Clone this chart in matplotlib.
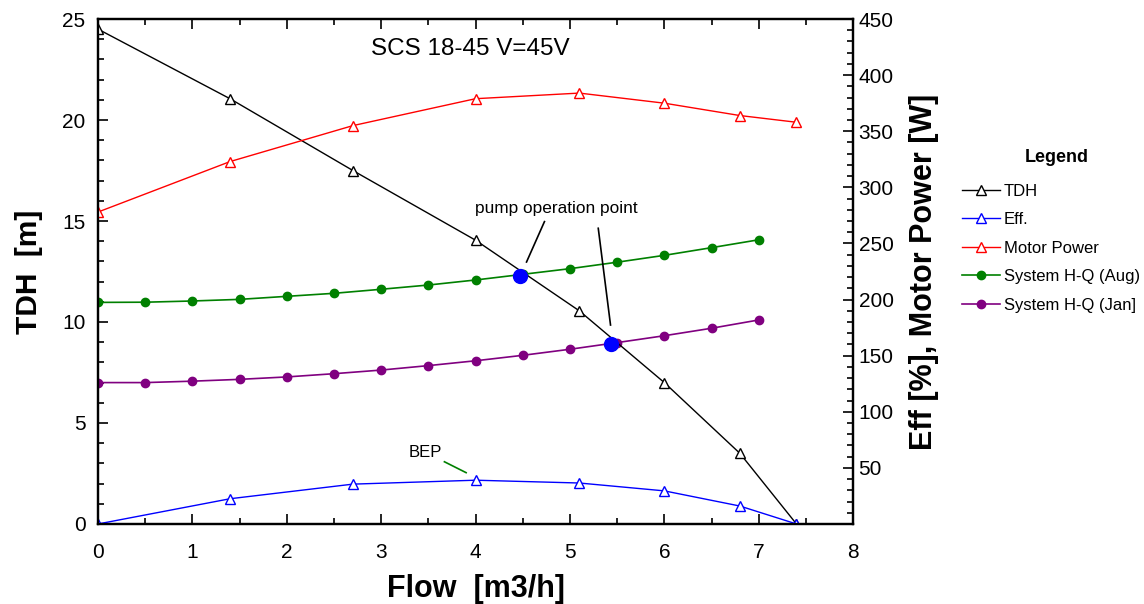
import matplotlib
matplotlib.use("Agg")
import matplotlib.pyplot as plt
from matplotlib.lines import Line2D
from matplotlib.ticker import MultipleLocator

plt.rcParams["font.family"] = ["Liberation Sans", "DejaVu Sans"]

# pump curve samples (flow in m3/h)
pump_flow = [0.0, 1.4, 2.7, 4.0, 5.1, 6.0, 6.8, 7.4]
tdh = [24.5, 21.05, 17.5, 14.05, 10.55, 7.0, 3.5, 0.0]
efficiency = [0.0, 22.5, 35.5, 39.0, 36.5, 29.5, 16.0, 0.0]
motor_power = [278, 323, 355, 379, 384, 375, 364, 358]

# system curves
system_flow = [0.0, 0.5, 1.0, 1.5, 2.0, 2.5, 3.0, 3.5, 4.0, 4.5, 5.0, 5.5, 6.0, 6.5, 7.0]
system_aug = [10.97, 10.98, 11.04, 11.12, 11.27, 11.42, 11.62, 11.83, 12.08, 12.36,
              12.64, 12.96, 13.3, 13.68, 14.07]
system_jan = [7.0, 7.0, 7.07, 7.16, 7.28, 7.44, 7.62, 7.84, 8.08, 8.35,
              8.65, 8.98, 9.32, 9.69, 10.1]

# intersections of the pump curve with each system curve
op_flow = [4.47, 5.44]
op_head = [12.3, 8.9]

fig = plt.figure(figsize=(11.44, 6.04), dpi=100)
ax = fig.add_axes([0.0857, 0.1325, 0.66, 0.836])
ax2 = ax.twinx()

tri = dict(marker="^", markersize=7, markerfacecolor="white", markeredgewidth=1.0)
ax.plot(pump_flow, tdh, color="black", lw=1.0, **tri, markeredgecolor="black", zorder=3)
ax.plot(system_flow, system_aug, color="green", lw=1.2, marker="o", markersize=6, zorder=2)
ax.plot(system_flow, system_jan, color="purple", lw=1.2, marker="o", markersize=6, zorder=2)
ax.plot(op_flow, op_head, ls="none", marker="o", markersize=10, color="blue", zorder=4)

ax2.plot(pump_flow, efficiency, color="blue", lw=1.0, **tri, markeredgecolor="blue")
ax2.plot(pump_flow, motor_power, color="red", lw=1.0, **tri, markeredgecolor="red")

ax.set_xlim(0, 8)
ax.set_ylim(0, 25)
ax2.set_ylim(0, 450)
ax.xaxis.set_major_locator(MultipleLocator(1))
ax.xaxis.set_minor_locator(MultipleLocator(0.5))
ax.yaxis.set_major_locator(MultipleLocator(5))
ax.yaxis.set_minor_locator(MultipleLocator(1))
ax2.set_yticks(range(50, 451, 50))
ax2.yaxis.set_minor_locator(MultipleLocator(10))

ax.tick_params(which="both", direction="in", top=True, right=False, labelsize=15, width=1.2)
ax.tick_params(which="major", length=7)
ax.tick_params(which="minor", length=4)
ax.tick_params(axis="x", pad=14)
ax.tick_params(axis="y", pad=9)
ax2.tick_params(which="both", direction="in", labelsize=15, width=1.2, pad=4)
ax2.tick_params(which="major", length=7)
ax2.tick_params(which="minor", length=4)
for a in (ax, ax2):
    for sp in a.spines.values():
        sp.set_linewidth(1.6)

ax.set_xlabel("Flow  [m3/h]", fontsize=22, fontweight="bold", labelpad=8)
ax.set_ylabel("TDH  [m]", fontsize=21.5, fontweight="bold", labelpad=14)
ax2.set_ylabel("Eff [%], Motor Power [W]", fontsize=22, fontweight="bold", labelpad=11)

ax.text(3.94, 23.5, "SCS 18-45 V=45V", fontsize=17.5, ha="center", va="center")
ax.text(4.86, 15.6, "pump operation point", fontsize=12.4, ha="center", va="center")
ax.plot([4.54, 4.73], [12.97, 14.97], color="black", lw=1.2)
ax.plot([5.43, 5.3], [9.85, 14.64], color="black", lw=1.2)
ax.text(3.47, 3.56, "BEP", fontsize=12, ha="center", va="center")
ax.plot([3.67, 3.9], [3.08, 2.54], color="green", lw=1.2)

handles = [
    Line2D([], [], color="black", lw=1.0, marker="^", markersize=7,
           markerfacecolor="white", markeredgecolor="black"),
    Line2D([], [], color="blue", lw=1.0, marker="^", markersize=7,
           markerfacecolor="white", markeredgecolor="blue"),
    Line2D([], [], color="red", lw=1.0, marker="^", markersize=7,
           markerfacecolor="white", markeredgecolor="red"),
    Line2D([], [], color="green", lw=1.2, marker="o", markersize=6),
    Line2D([], [], color="purple", lw=1.2, marker="o", markersize=6),
]
labels = ["TDH", "Eff.", "Motor Power", "System H-Q (Aug)", "System H-Q (Jan]"]
fig.legend(handles, labels, loc="upper left",
           bbox_to_anchor=(0.835, 0.707), frameon=False, fontsize=12,
           handlelength=2.3, handletextpad=0.2, labelspacing=0.81,
           borderaxespad=0)
fig.text(1057 / 1144, 1 - 158 / 604, "Legend", fontsize=13, fontweight="bold",
         ha="center", va="center")

fig.savefig("out.png", dpi=100)
